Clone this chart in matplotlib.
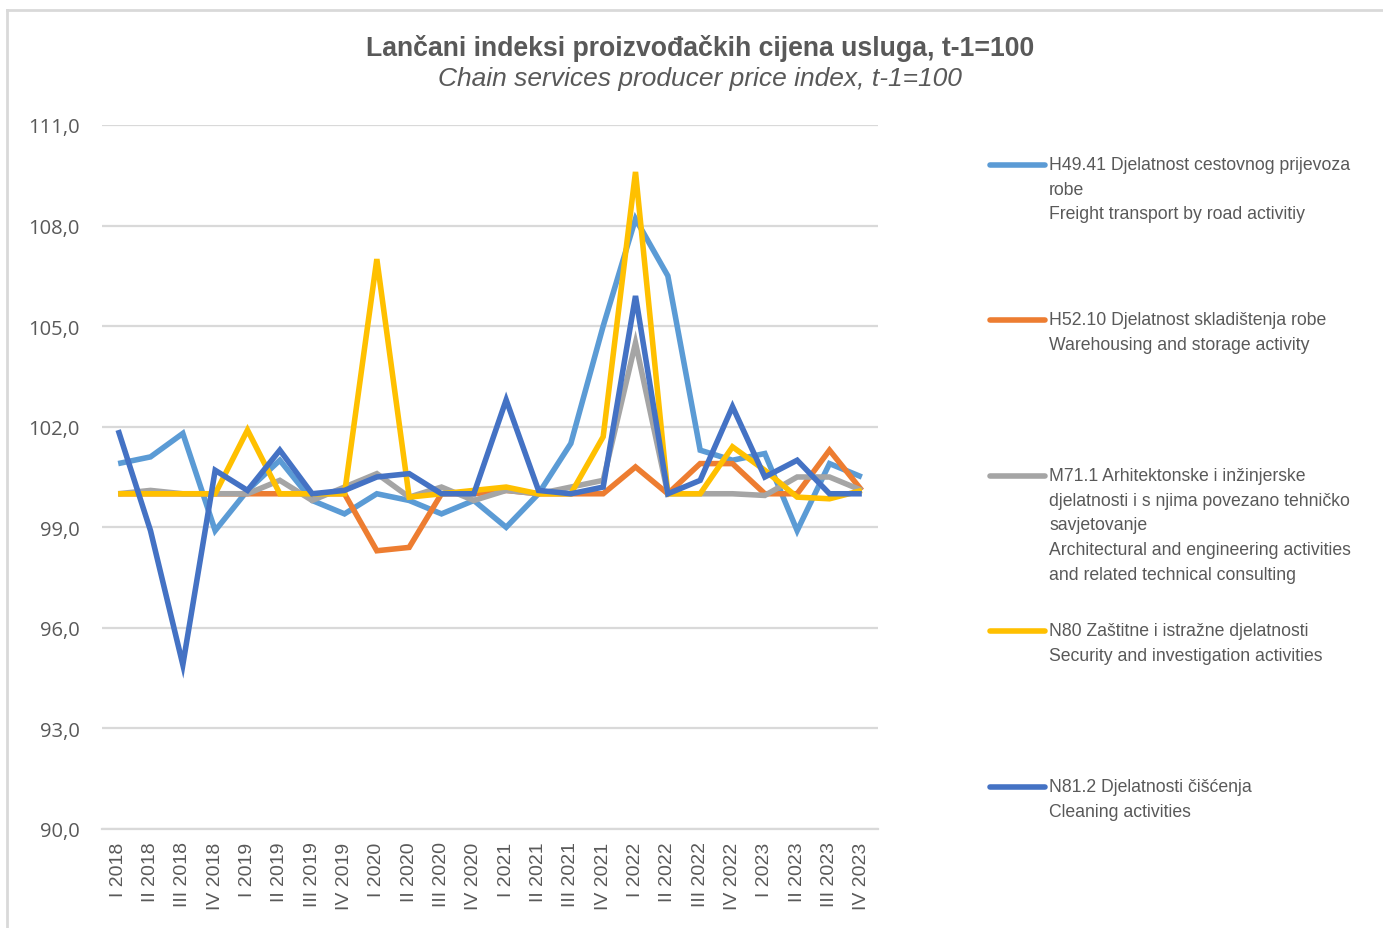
import matplotlib
matplotlib.use("Agg")
import matplotlib.pyplot as plt
from matplotlib.lines import Line2D

quarters = ["I 2018", "II 2018", "III 2018", "IV 2018",
            "I 2019", "II 2019", "III 2019", "IV 2019",
            "I 2020", "II 2020", "III 2020", "IV 2020",
            "I 2021", "II 2021", "III 2021", "IV 2021",
            "I 2022", "II 2022", "III 2022", "IV 2022",
            "I 2023", "II 2023", "III 2023", "IV 2023"]

h4941 = [100.9, 101.1, 101.8, 98.9, 100.1, 101.0, 99.8, 99.4,
         100.0, 99.8, 99.4, 99.8, 99.0, 100.0, 101.5, 105.0,
         108.2, 106.5, 101.3, 101.0, 101.2, 98.9, 100.9, 100.5]
h5210 = [100.0, 100.0, 100.0, 100.0, 100.0, 100.0, 100.0, 100.0,
         98.3, 98.4, 100.0, 100.0, 100.1, 100.0, 100.0, 100.0,
         100.8, 100.0, 100.9, 100.9, 100.0, 100.0, 101.3, 100.1]
m711 = [100.0, 100.1, 100.0, 100.0, 100.0, 100.4, 99.8, 100.2,
        100.6, 99.9, 100.2, 99.8, 100.1, 100.0, 100.2, 100.4,
        104.5, 100.0, 100.0, 100.0, 99.95, 100.5, 100.5, 100.1]
n80 = [100.0, 100.0, 100.0, 100.0, 101.9, 100.0, 100.0, 100.0,
       107.0, 99.9, 100.0, 100.1, 100.2, 100.0, 100.0, 101.7,
       109.6, 100.0, 100.0, 101.4, 100.7, 99.9, 99.85, 100.1]
n812 = [101.9, 98.9, 94.9, 100.7, 100.1, 101.3, 100.0, 100.1,
        100.5, 100.6, 100.0, 100.0, 102.8, 100.1, 100.0, 100.2,
        105.9, 100.0, 100.4, 102.6, 100.5, 101.0, 100.0, 100.0]

labels = [
    "H49.41 Djelatnost cestovnog prijevoza\nrobe\nFreight transport by road activitiy",
    "H52.10 Djelatnost skladištenja robe\nWarehousing and storage activity",
    "M71.1 Arhitektonske i inžinjerske\ndjelatnosti i s njima povezano tehničko\nsavjetovanje\n"
    "Architectural and engineering activities\nand related technical consulting",
    "N80 Zaštitne i istražne djelatnosti\nSecurity and investigation activities",
    "N81.2 Djelatnosti čišćenja\nCleaning activities",
]
series = [h4941, h5210, m711, n80, n812]
colors = ["#5B9BD5", "#ED7D31", "#A5A5A5", "#FFC000", "#4472C4"]
legend_y = [166, 321, 477, 632, 788]  # pixel rows of legend entries

W, H = 1383, 929
fig = plt.figure(figsize=(W / 100, H / 100), dpi=100)
ax = fig.add_axes([102 / W, 1 - 830 / H, 776 / W, 704 / H])

x = list(range(len(quarters)))
for vals, c in zip(series, colors):
    ax.plot(x, vals, color=c, lw=4, solid_joinstyle="miter", solid_capstyle="butt")

ax.set_xlim(-0.5, len(quarters) - 0.5)
ax.set_ylim(90, 111)
ax.set_yticks([90, 93, 96, 99, 102, 105, 108, 111])
ax.set_yticklabels([f"{v:.1f}".replace(".", ",") for v in ax.get_yticks()],
                   fontsize=14.5, color="#595959", family="Open Sans")
ax.set_xticks(x)
ax.set_xticklabels(quarters, rotation=90, fontsize=14, color="#595959",
                   family="Liberation Sans")
ax.tick_params(length=0, axis="both")
ax.tick_params(axis="y", pad=16)
ax.tick_params(axis="x", pad=9)
ax.grid(axis="y", color="#D9D9D9", lw=1.6)
ax.set_axisbelow(True)
for s in ["top", "right", "left"]:
    ax.spines[s].set_visible(False)
ax.spines["bottom"].set_color("#D9D9D9")
ax.spines["bottom"].set_linewidth(1.6)

fig.text(700 / W, 1 - 48 / H, "Lančani indeksi proizvođačkih cijena usluga, t-1=100",
         ha="center", va="center", fontsize=19.2, fontweight="bold", color="#595959",
         family="Liberation Sans")
fig.text(700 / W, 1 - 79 / H, "Chain services producer price index, t-1=100",
         ha="center", va="center", fontsize=19, style="italic", color="#595959",
         family="Liberation Sans")

# legend drawn manually
for lab, c, py in zip(labels, colors, legend_y):
    yf = 1 - py / H
    fig.add_artist(Line2D([990 / W, 1045 / W], [yf, yf], color=c, lw=4,
                          solid_capstyle="round", transform=fig.transFigure))
    fig.text(1049 / W, yf + 9 / H, lab, ha="left", va="top", fontsize=12.7,
             color="#595959", family="Liberation Sans", linespacing=1.59)

# chart border
fig.add_artist(Line2D([7 / W, 7 / W], [0, 1 - 11 / H], color="#D9D9D9", lw=2,
                      transform=fig.transFigure))
fig.add_artist(Line2D([7 / W, 1], [1 - 11 / H, 1 - 11 / H], color="#D9D9D9", lw=2,
                      transform=fig.transFigure))

fig.savefig("out.png", dpi=100, facecolor="white")
